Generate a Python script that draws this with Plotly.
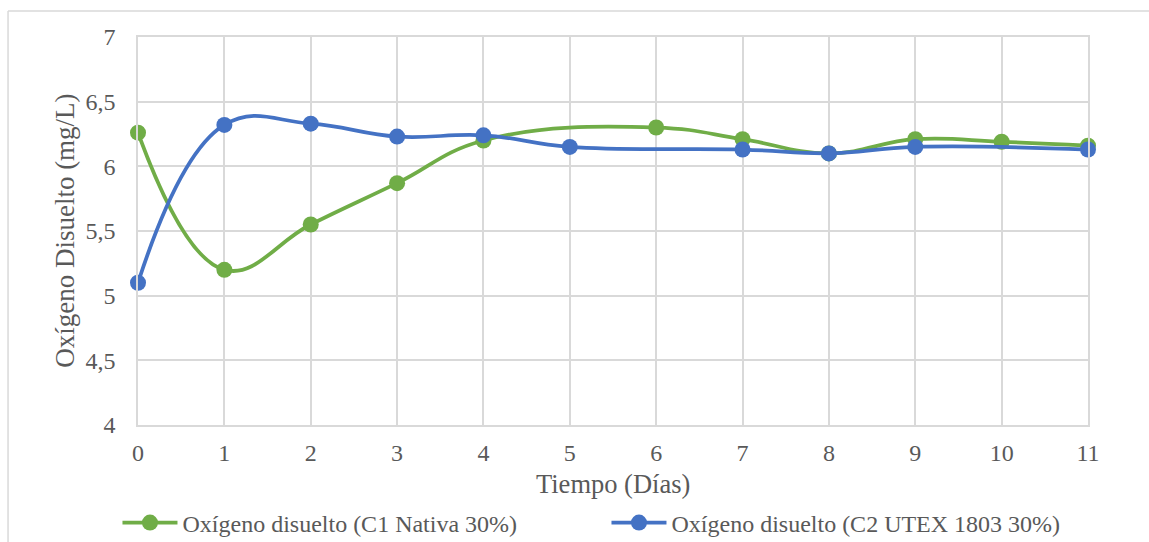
import plotly.graph_objects as go

# Días de muestreo
dias = [0, 1, 2, 3, 4, 5, 6, 7, 8, 9, 10, 11]

# Oxígeno disuelto (mg/L); None = sin medición ese día
od_c1_nativa = [6.26, 5.20, 5.55, 5.87, 6.20, None, 6.30, 6.21, 6.10, 6.21, 6.19, 6.16]
od_c2_utex = [5.10, 6.32, 6.33, 6.23, 6.24, 6.15, None, 6.13, 6.10, 6.15, None, 6.13]

nombres = ["Oxígeno disuelto (C1 Nativa 30%)", "Oxígeno disuelto (C2 UTEX 1803 30%)"]
colores = ["#70AD47", "#4472C4"]

y_ticks = [4, 4.5, 5, 5.5, 6, 6.5, 7]
y_tick_text = ["4", "4,5", "5", "5,5", "6", "6,5", "7"]

FONT = "Liberation Serif, Times New Roman, serif"
GRIS = "#595959"
GRID = "#D9D9D9"

fig = go.Figure()
for serie, nombre, color in zip([od_c1_nativa, od_c2_utex], nombres, colores):
    fig.add_trace(go.Scatter(
        x=dias, y=serie, name=nombre, mode="lines+markers",
        connectgaps=True, cliponaxis=False,
        line=dict(color=color, width=3.75, shape="spline", smoothing=1.2),
        marker=dict(color=color, size=16),
    ))

fig.update_layout(
    width=1149, height=542,
    margin=dict(l=138, r=61, t=37, b=117, autoexpand=False),
    paper_bgcolor="white", plot_bgcolor="white",
    font=dict(family=FONT, color=GRIS, size=24),
    showlegend=True,
    legend=dict(
        orientation="h", x=-0.0216, xanchor="left",
        y=-0.2526, yanchor="middle",
        font=dict(family=FONT, size=24, color=GRIS),
        entrywidth=419, itemwidth=55,
    ),
    xaxis=dict(
        range=[0, 11], tickmode="array", tickvals=dias,
        showgrid=True, gridcolor=GRID, gridwidth=1.5,
        zeroline=False, showline=True, linecolor=GRID, linewidth=1.5,
        ticks="", ticklabelstandoff=5, automargin=False,
        tickfont=dict(size=24, family=FONT, color=GRIS),
        mirror=True,
    ),
    yaxis=dict(
        range=[4, 7], tickmode="array", tickvals=y_ticks, ticktext=y_tick_text,
        showgrid=True, gridcolor=GRID, gridwidth=1.5,
        zeroline=False, showline=True, linecolor=GRID, linewidth=1.5,
        ticks="", ticklabelstandoff=16, automargin=False,
        tickfont=dict(size=24, family=FONT, color=GRIS),
        mirror=True,
    ),
    annotations=[
        dict(text="Tiempo (Días)", xref="paper", yref="paper", x=0.5, y=-0.152,
             xanchor="center", yanchor="middle", showarrow=False,
             font=dict(size=26.5, family=FONT, color=GRIS)),
        dict(text="Oxígeno Disuelto (mg/L)", xref="paper", yref="paper", x=-0.077, y=0.5,
             xanchor="center", yanchor="middle", showarrow=False, textangle=-90,
             font=dict(size=27, family=FONT, color=GRIS)),
    ],
    shapes=[
        dict(type="line", xref="paper", yref="paper", x0=-0.1368, x1=1.2, y0=1.067, y1=1.067,
             line=dict(color=GRID, width=1.5)),
        dict(type="line", xref="paper", yref="paper", x0=-0.1368, x1=-0.1368, y0=1.067, y1=-0.4,
             line=dict(color=GRID, width=1.5)),
    ],
)

fig.write_html("out.html")
